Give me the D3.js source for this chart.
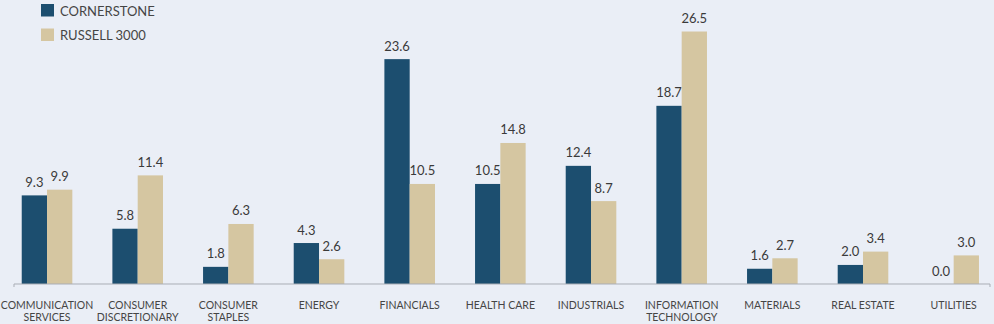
<!DOCTYPE html>
<html>
<head>
<meta charset="utf-8">
<script src="https://cdn.jsdelivr.net/npm/d3@7"></script>
<style>
  html, body { margin: 0; padding: 0; background: #eaeef6; }
  svg { display: block; font-family: Lato, "Open Sans", sans-serif; }
</style>
</head>
<body>
<svg id="chart" width="994" height="324"></svg>
<script>
// Sector weights (%) for the fund versus its benchmark
const categories = [
  ["COMMUNICATION", "SERVICES"],
  ["CONSUMER", "DISCRETIONARY"],
  ["CONSUMER", "STAPLES"],
  ["ENERGY"],
  ["FINANCIALS"],
  ["HEALTH CARE"],
  ["INDUSTRIALS"],
  ["INFORMATION", "TECHNOLOGY"],
  ["MATERIALS"],
  ["REAL ESTATE"],
  ["UTILITIES"]
];
const cornerstone = [9.3, 5.8, 1.8, 4.3, 23.6, 10.5, 12.4, 18.7, 1.6, 2.0, 0.0];
const russell3000 = [9.9, 11.4, 6.3, 2.6, 10.5, 14.8, 8.7, 26.5, 2.7, 3.4, 3.0];
const seriesNames = ["CORNERSTONE", "RUSSELL 3000"];
const seriesColors = ["#1c4e6f", "#d5c6a1"];

const svg = d3.select("#chart");
const baseY = 284;

const x = d3.scaleBand()
  .domain(d3.range(categories.length))
  .range([1.7, 999])
  .paddingInner(0)
  .paddingOuter(0);

const y = d3.scaleLinear().domain([0, 26.5]).range([baseY, 31.5]);

const barW = 25.3;
const series = [cornerstone, russell3000];

// Bars with their value labels
series.forEach((vals, s) => {
  const g = svg.append("g");
  const cx = i => x(i) + x.bandwidth() / 2 + (s === 0 ? -barW / 2 : barW / 2);
  g.selectAll("rect")
    .data(vals)
    .join("rect")
    .attr("x", (d, i) => cx(i) - barW / 2)
    .attr("width", barW)
    .attr("y", d => y(d))
    .attr("height", d => baseY - y(d))
    .attr("fill", seriesColors[s]);
  g.selectAll("text")
    .data(vals)
    .join("text")
    .attr("x", (d, i) => cx(i))
    .attr("y", d => y(d) - 8.5)
    .attr("text-anchor", "middle")
    .attr("font-size", 13)
    .attr("fill", "#3a3a3a")
    .text(d => d3.format(".1f")(d));
});

// Baseline axis
svg.append("path")
  .attr("d", `M14,${baseY + 3}V${baseY}H990V${baseY + 3}`)
  .attr("fill", "none")
  .attr("stroke", "#a9adb5")
  .attr("stroke-width", 1);

// Category labels
const labels = svg.append("g")
  .selectAll("text")
  .data(categories)
  .join("text")
  .attr("x", (d, i) => x(i) + x.bandwidth() / 2)
  .attr("y", 309)
  .attr("text-anchor", "middle")
  .attr("font-size", 10.5)
  .attr("fill", "#454545");
labels.selectAll("tspan")
  .data(d => d)
  .join("tspan")
  .attr("x", function () { return d3.select(this.parentNode).attr("x"); })
  .attr("dy", (d, i) => i === 0 ? 0 : 12)
  .text(d => d);

// Legend
const legend = svg.append("g");
seriesNames.forEach((name, i) => {
  legend.append("rect")
    .attr("x", 41).attr("y", 4 + i * 24.5)
    .attr("width", 13).attr("height", 12.5)
    .attr("fill", seriesColors[i]);
  legend.append("text")
    .attr("x", 60).attr("y", 15.5 + i * 24.5)
    .attr("font-size", 13)
    .attr("fill", "#454545")
    .text(name);
});
</script>
</body>
</html>
